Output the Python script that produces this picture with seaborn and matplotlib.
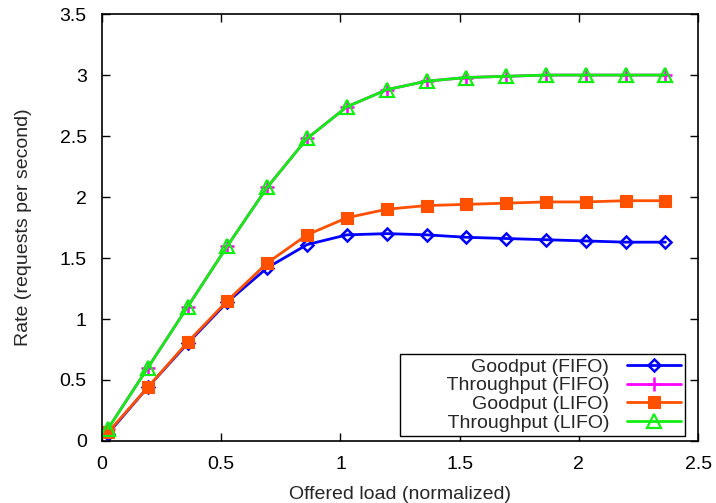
import matplotlib
matplotlib.use('Agg')
import matplotlib.pyplot as plt
import seaborn as sns

# Offered load (normalized) for each measured point
load = [0.025, 0.192, 0.359, 0.526, 0.693, 0.860, 1.027, 1.194,
        1.361, 1.528, 1.695, 1.862, 2.029, 2.196, 2.363]

# Rates (requests per second)
goodput_fifo = [0.06, 0.44, 0.80, 1.14, 1.42, 1.61, 1.69, 1.70,
                1.69, 1.67, 1.66, 1.65, 1.64, 1.63, 1.63]
throughput_fifo = [0.10, 0.60, 1.10, 1.60, 2.08, 2.48, 2.74, 2.88,
                   2.95, 2.98, 2.99, 3.00, 3.00, 3.00, 3.00]
goodput_lifo = [0.07, 0.44, 0.81, 1.15, 1.46, 1.69, 1.83, 1.90,
                1.93, 1.94, 1.95, 1.96, 1.96, 1.97, 1.97]
throughput_lifo = [0.10, 0.60, 1.10, 1.60, 2.08, 2.48, 2.74, 2.88,
                   2.95, 2.98, 2.99, 3.00, 3.00, 3.00, 3.00]

labels = ['Goodput (FIFO)', 'Throughput (FIFO)', 'Goodput (LIFO)', 'Throughput (LIFO)']

sns.set_theme(style='ticks')
plt.rcParams['font.family'] = ['Liberation Sans', 'DejaVu Sans']
plt.rcParams['font.size'] = 14

fig = plt.figure(figsize=(7.16, 5.03), dpi=100)
ax = fig.add_axes([0.1425, 0.1233, 0.8325, 0.8487])

pad = '        '
sns.lineplot(x=load, y=goodput_fifo, ax=ax, color='#0000ff', lw=2,
             marker='D', markersize=6, markerfacecolor='none',
             markeredgecolor='#0000ff', markeredgewidth=1.8, label=pad + labels[0])
sns.lineplot(x=load, y=throughput_fifo, ax=ax, color='#ff00ff', lw=2,
             marker='+', markersize=10, markeredgecolor='#ff00ff',
             markeredgewidth=1.8, label=pad + labels[1])
sns.lineplot(x=load, y=goodput_lifo, ax=ax, color='#ff5000', lw=2,
             marker='s', markersize=8, markerfacecolor='#ff5000',
             markeredgecolor='#ff5000', markeredgewidth=0.8, label=pad + labels[2])
sns.lineplot(x=load, y=throughput_lifo, ax=ax, color='#11ee11', lw=2,
             marker='^', markersize=10, markerfacecolor='none',
             markeredgecolor='#11ee11', markeredgewidth=1.6, label=pad + labels[3])

ax.set_xlim(0, 2.5)
ax.set_ylim(0, 3.5)
ax.set_xticks([0, 0.5, 1, 1.5, 2, 2.5])
ax.set_xticklabels(['0', '0.5', '1', '1.5', '2', '2.5'])
ax.set_yticks([0, 0.5, 1, 1.5, 2, 2.5, 3, 3.5])
ax.set_yticklabels(['0', '0.5', '1', '1.5', '2', '2.5', '3', '3.5'])
ax.tick_params(direction='in', length=6, width=1, top=True, right=True,
               labelsize=14, colors='black')
ax.tick_params(axis='x', pad=11)
ax.tick_params(axis='y', pad=11)
for s in ax.spines.values():
    s.set_visible(True)
    s.set_color('black')
    s.set_linewidth(1.2)

ax.set_xlabel('Offered load (normalized)', fontsize=14, labelpad=9)
ax.set_ylabel('Rate (requests per second)', fontsize=14, labelpad=20)

leg = ax.legend(loc='lower right', bbox_to_anchor=(0.978, 0.012), borderaxespad=0,
                markerfirst=False, frameon=True, fancybox=False, framealpha=1,
                edgecolor='black', fontsize=14, handlelength=2.8, handletextpad=0.9,
                labelspacing=0.06, borderpad=0.2)
leg.get_frame().set_linewidth(1.0)

fig.savefig('out.png', dpi=100)
